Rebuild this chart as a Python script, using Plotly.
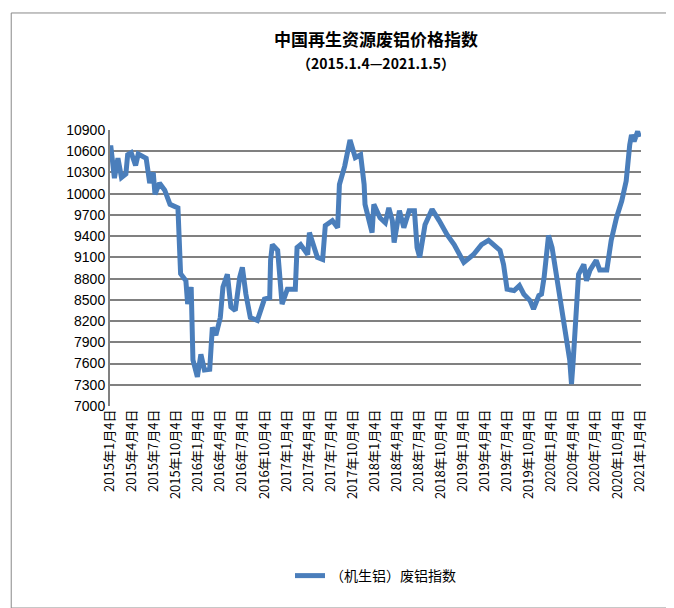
import pandas as pd
import plotly.graph_objects as go

# years after 2015-01-04 and index values
t_years = [0.0, 0.011, 0.05, 0.09, 0.13, 0.18, 0.20, 0.24, 0.29, 0.32, 0.41, 0.45, 0.49, 0.51, 0.56,
           0.62, 0.68, 0.77, 0.80, 0.86, 0.88, 0.92, 0.94, 0.99, 1.03, 1.07, 1.13, 1.16,
           1.20, 1.25, 1.28, 1.33, 1.37, 1.42, 1.47, 1.50, 1.54, 1.59, 1.67, 1.75, 1.81,
           1.82, 1.84, 1.90, 1.95, 2.01, 2.10, 2.12, 2.16, 2.24, 2.26, 2.35, 2.41, 2.44,
           2.52, 2.58, 2.60, 2.66, 2.72, 2.78, 2.84, 2.88, 2.89, 2.94, 2.97, 2.99, 3.06,
           3.12, 3.16, 3.20, 3.22, 3.28, 3.33, 3.39, 3.45, 3.48, 3.51, 3.57, 3.65, 3.73,
           3.82, 3.90, 3.97, 4.01, 4.12, 4.21, 4.29, 4.35, 4.42, 4.46, 4.50, 4.58, 4.64,
           4.69, 4.76, 4.80, 4.86, 4.89, 4.92, 4.97, 5.01, 5.21, 5.23, 5.25, 5.29, 5.31,
           5.37, 5.40, 5.44, 5.51, 5.55, 5.63, 5.68, 5.74, 5.80, 5.85, 5.89, 5.91, 5.94,
           5.98, 6.0]
index_vals = [10650, 10650, 10220, 10500, 10230, 10280, 10550, 10580, 10400, 10560, 10500, 10150, 10300, 9990, 10150,
              10050, 9850, 9800, 8870, 8770, 8440, 8680, 7650, 7410, 7730, 7510, 7520, 8110,
              8000, 8250, 8680, 8860, 8400, 8350, 8820, 8960, 8580, 8250, 8210, 8510, 8530,
              9060, 9280, 9200, 8440, 8650, 8650, 9240, 9280, 9140, 9450, 9100, 9070, 9550,
              9620, 9520, 10130, 10390, 10760, 10510, 10550, 10130, 9850, 9620, 9450, 9850, 9660,
              9590, 9800, 9620, 9310, 9760, 9520, 9760, 9760, 9240, 9100, 9560, 9780, 9620,
              9420, 9280, 9140, 9030, 9140, 9280, 9340, 9270, 9200, 9000, 8650, 8630, 8700,
              8580, 8490, 8370, 8560, 8580, 8820, 9410, 9240, 7650, 7310, 7650, 8400, 8860,
              9000, 8770, 8920, 9060, 8920, 8920, 9340, 9660, 9900, 10180, 10690, 10830, 10740,
              10880, 10800]

tick_years = [y for y in range(2015, 2021) for _ in range(4)] + [2021]
tick_months = [1, 4, 7, 10] * 6 + [1]
y_ticks = list(range(7000, 10901, 300))

tick_dates = [pd.Timestamp(year=y, month=m, day=4) for y, m in zip(tick_years, tick_months)]
tick_text = [f"{y}年{m}月4日" for y, m in zip(tick_years, tick_months)]

start = pd.Timestamp("2015-01-04")
dates = [start + pd.Timedelta(days=t * 365.25) for t in t_years]

fig = go.Figure()
fig.add_trace(go.Scatter(x=dates, y=index_vals, mode="lines", name="（机生铝）废铝指数",
                         line=dict(color="#4A7EBB", width=5)))

fig.update_layout(
    width=674, height=608,
    margin=dict(l=102, r=41, t=122, b=210),
    paper_bgcolor="white", plot_bgcolor="white",
    font=dict(family="Noto Sans CJK SC, sans-serif", color="black", size=13),
    showlegend=True,
    legend=dict(orientation="h", x=0.5, xanchor="center", y=-0.616, yanchor="middle",
                font=dict(size=14)),
    annotations=[
        dict(text="<b>中国再生资源废铝价格指数</b>", xref="paper", yref="paper",
             x=0.5, y=(398 - 30) / 276, xanchor="center", yanchor="middle",
             showarrow=False, font=dict(size=17)),
        dict(text="<b>（2015.1.4—2021.1.5）</b>", xref="paper", yref="paper",
             x=0.5, y=(398 - 55) / 276, xanchor="center", yanchor="middle",
             showarrow=False, font=dict(size=14)),
    ],
    shapes=[dict(type="rect", xref="paper", yref="paper", x0=-0.186, x1=1.055,
                 y0=-0.732, y1=1.424, line=dict(color="#888888", width=1))],
)
fig.update_xaxes(range=[start, pd.Timestamp("2021-01-10")], tickvals=tick_dates, ticktext=tick_text,
                 tickangle=-90, showgrid=False, showline=False, ticks="", tickfont=dict(size=13))
fig.update_yaxes(range=[7000, 10900], tickvals=y_ticks, ticktext=[str(v) for v in y_ticks],
                 showgrid=True, gridcolor="#808080", gridwidth=2,
                 zeroline=False, showline=True, linecolor="#808080", linewidth=2,
                 tickfont=dict(size=14, family="Liberation Sans"))
fig.write_html("out.html")
